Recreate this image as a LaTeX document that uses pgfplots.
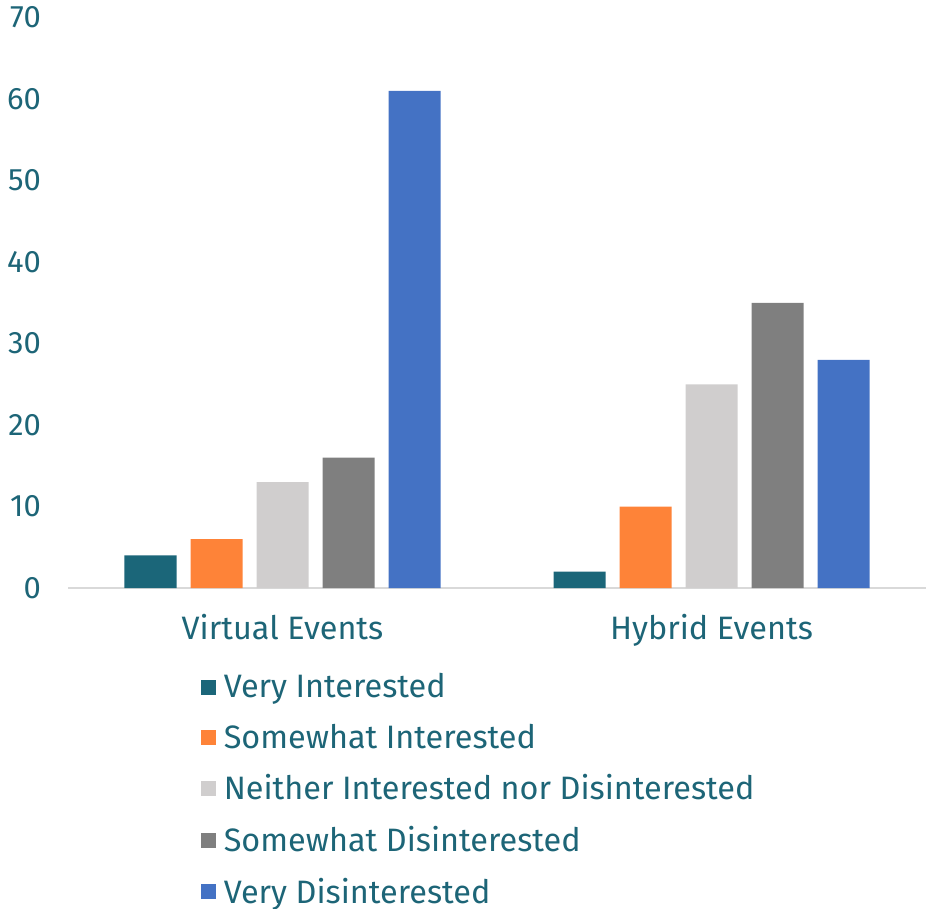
\documentclass[border=0pt]{standalone}
\usepackage{pgfplots}
\pgfplotsset{compat=1.18}
\usepackage{fontspec}
\setmainfont{Fira Sans}
\definecolor{txt}{HTML}{1D6577}
\definecolor{c1}{HTML}{1B6679}
\definecolor{c2}{HTML}{FE8338}
\definecolor{c3}{HTML}{D0CECE}
\definecolor{c4}{HTML}{7F7F7F}
\definecolor{c5}{HTML}{4472C4}
\definecolor{axl}{HTML}{D9D9D9}
\begin{document}
\begin{tikzpicture}
\useasboundingbox (0,0) rectangle (463pt,-454.5pt);
\begin{axis}[
  at={(34pt,-294pt)}, anchor=south west,
  scale only axis, width=429pt, height=285.25pt,
  ybar=7pt, bar width=26pt,
  xmin=-0.5, xmax=1.5, ymin=0, ymax=70,
  xtick={0,1}, xticklabels={Virtual Events, Hybrid Events},
  ytick={0,10,...,70},
  axis x line*=bottom, axis y line*=left,
  x axis line style={draw=axl, line width=1pt, -},
  y axis line style={draw=none},
  major tick length=0pt,
  font=\fontsize{16.2pt}{19pt}\selectfont,
  tick label style={text=txt},
  yticklabel style={xshift=-10pt, font=\fontsize{15.5pt}{18pt}\selectfont},
  xticklabel style={yshift=-9.5pt},
  /pgf/number format/assume math mode=true,
  legend style={at={(0.155,-0.142)}, anchor=north west, draw=none, fill=none,
    text=txt, font=\fontsize{16.2pt}{19pt}\selectfont,
    row sep=7.65pt, inner sep=0pt,
    nodes={inner xsep=3.7pt}},
  legend cell align=left,
  legend image code/.code={\fill[#1] (0pt,-3.75pt) rectangle (7.5pt,3.75pt);},
]
\addplot[fill=c1, draw=none] coordinates {(0,4) (1,2)};
\addplot[fill=c2, draw=none] coordinates {(0,6) (1,10)};
\addplot[fill=c3, draw=none] coordinates {(0,13) (1,25)};
\addplot[fill=c4, draw=none] coordinates {(0,16) (1,35)};
\addplot[fill=c5, draw=none] coordinates {(0,61) (1,28)};
\legend{Very Interested, Somewhat Interested, Neither Interested nor Disinterested, Somewhat Disinterested, Very Disinterested}
\end{axis}
\end{tikzpicture}
\end{document}
